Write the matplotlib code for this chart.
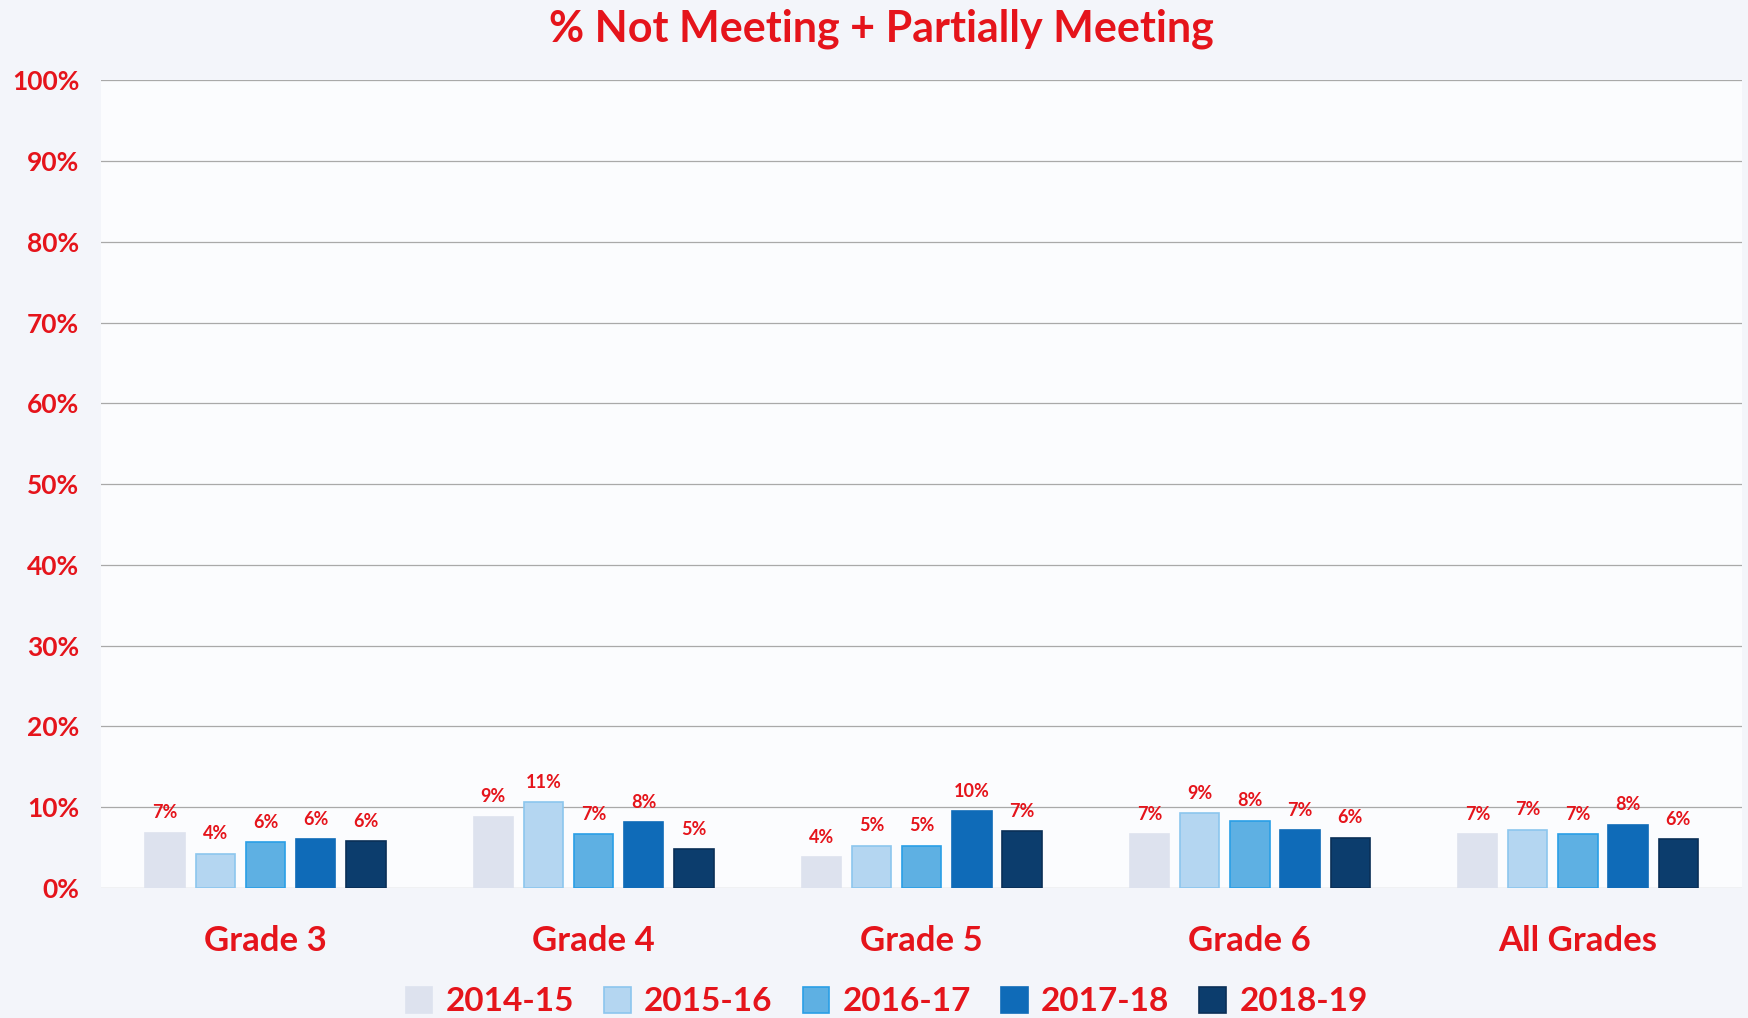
import numpy as np
import matplotlib
matplotlib.use('Agg')
import matplotlib.pyplot as plt
from matplotlib.ticker import FuncFormatter

# data
groups = ['Grade 3', 'Grade 4', 'Grade 5', 'Grade 6', 'All Grades']
years = ['2014-15', '2015-16', '2016-17', '2017-18', '2018-19']
y2014 = [6.8, 8.8, 3.8, 6.6, 6.6]
y2015 = [4.2, 10.6, 5.2, 9.2, 7.2]
y2016 = [5.6, 6.6, 5.2, 8.3, 6.6]
y2017 = [6.0, 8.1, 9.5, 7.1, 7.8]
y2018 = [5.8, 4.8, 7.0, 6.2, 6.0]

series = [y2014, y2015, y2016, y2017, y2018]
colors = ['#dde2ee', '#b4d6f1', '#5eb0e3', '#0f6bb8', '#0c3d6d']
edges = ['#dde2ee', '#8cc6ee', '#2a9fe6', '#0f6bb8', '#0a2f57']
red = '#e5141b'
font = 'Lato'

fig = plt.figure(figsize=(17.49, 10.18), dpi=100)
fig.patch.set_facecolor('#f3f5fa')
ax = fig.add_axes([0.058, 0.128, 0.938, 0.793])
ax.set_facecolor('#fbfcfe')

x = np.arange(len(groups))
step = 0.153
w = 0.12
for i, vals in enumerate(series):
    pos = x + (i - 2) * step
    bars = ax.bar(pos, vals, w, color=colors[i], edgecolor=edges[i], linewidth=1.2,
                  label=years[i], zorder=3)
    for b, v in zip(bars, vals):
        ax.text(b.get_x() + b.get_width() / 2, v + 1.4, '%d%%' % int(v + 0.5),
                ha='center', va='bottom', color=red, fontsize=13,
                fontweight='bold', family=font)

ax.set_xlim(-0.5, 4.5)
ax.set_ylim(0, 100)
ax.set_yticks(np.arange(0, 101, 10))
ax.yaxis.set_major_formatter(FuncFormatter(lambda v, p: '%d%%' % v))
ax.grid(axis='y', color='#a9a9a9', linewidth=0.9, zorder=0)
for s in ax.spines.values():
    s.set_visible(False)
ax.tick_params(axis='y', length=0, pad=16, labelcolor=red, labelsize=19)
ax.tick_params(axis='x', length=0, pad=27, labelcolor=red, labelsize=25)
ax.set_xticks(x)
ax.set_xticklabels(groups)
for t in ax.get_yticklabels() + ax.get_xticklabels():
    t.set_fontweight('bold')
    t.set_family(font)

fig.text(0.504, 0.972, '% Not Meeting + Partially Meeting', ha='center', va='center',
         color=red, fontsize=31, fontweight='bold', family=font)

leg = fig.legend(loc='center', bbox_to_anchor=(0.507, 0.016), ncol=5, frameon=False,
                 handlelength=0.8, handleheight=0.8, handletextpad=0.4, columnspacing=0.9,
                 prop={'family': font, 'weight': 'bold', 'size': 24})
for t in leg.get_texts():
    t.set_color(red)

fig.savefig('out.png', dpi=100, facecolor=fig.get_facecolor())
